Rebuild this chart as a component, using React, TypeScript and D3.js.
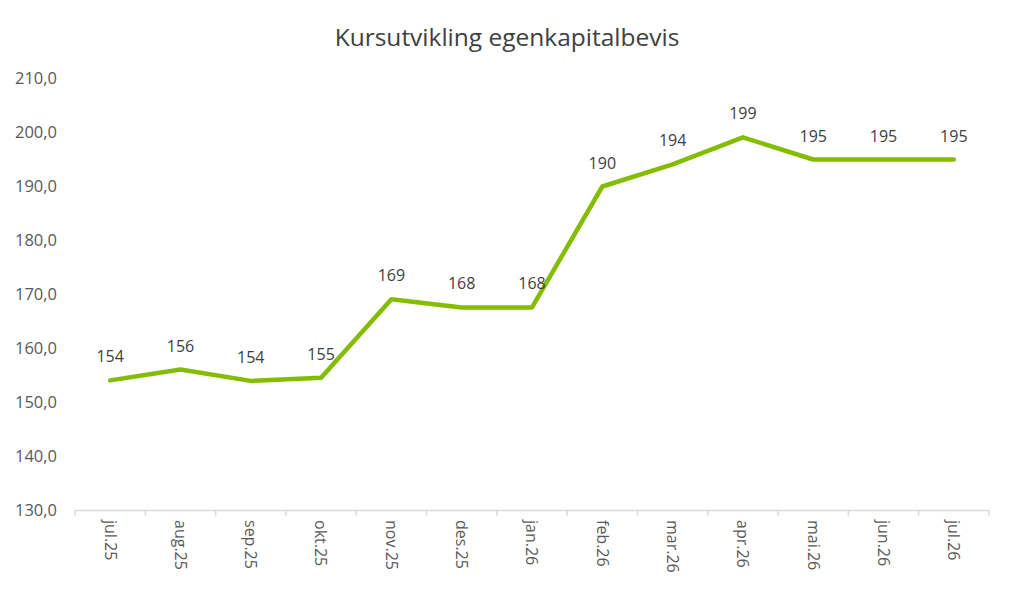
import React from "react";
import * as d3 from "d3";

const categories = ["jul.25","aug.25","sep.25","okt.25","nov.25","des.25","jan.26","feb.26","mar.26","apr.26","mai.26","jun.26","jul.26"];
const values = [154.1,156.1,154.0,154.6,169.1,167.6,167.6,190.0,194.1,199.1,195.0,195.0,195.0];
const yTicks = [130,140,150,160,170,180,190,200,210];
const title = "Kursutvikling egenkapitalbevis";

const W = 1013, H = 591;
const FONT = "'Open Sans', 'Noto Sans', sans-serif";

export default function App() {
  const x = d3.scaleBand<string>().domain(categories).range([75, 989]);
  const y = d3.scaleLinear().domain([130, 210]).range([510.5, 78.5]);
  const line = d3.line<number>()
    .x((_, i) => (x(categories[i]) as number) + x.bandwidth() / 2)
    .y(d => y(d));
  const fmt = (v: number) => v.toFixed(1).replace(".", ",");
  return (
    <svg width={W} height={H} style={{ position: "absolute", left: 0, top: 0, background: "#fff" }} fontFamily={FONT}>
      <rect width={W} height={H} fill="#fff" />
      <text x={507} y={46} textAnchor="middle" fontSize={24.5} fill="#404040">{title}</text>
      {yTicks.map(t => (
        <text key={t} x={57} y={y(t)} dy="0.35em" textAnchor="end" fontSize={16.5} fill="#595959">{fmt(t)}</text>
      ))}
      <line x1={75} x2={989} y1={y(130)} y2={y(130)} stroke="#d9d9d9" strokeWidth={1.5} />
      {categories.concat([""]).map((c, i) => {
        const xx = 75 + i * x.step();
        return <line key={"t" + i} x1={xx} x2={xx} y1={y(130)} y2={y(130) + 5} stroke="#d9d9d9" strokeWidth={1.5} />;
      })}
      {categories.map(c => {
        const cx = (x(c) as number) + x.bandwidth() / 2;
        return (
          <text key={c} transform={`translate(${cx},${520}) rotate(90)`} dy="0.35em" textAnchor="start" fontSize={16} fill="#595959">{c}</text>
        );
      })}
      <path d={line(values) || ""} fill="none" stroke="#84bd00" strokeWidth={4.5} strokeLinejoin="round" strokeLinecap="round" />
      {values.map((v, i) => {
        const cx = (x(categories[i]) as number) + x.bandwidth() / 2;
        return <text key={"l" + i} x={cx} y={y(v) - 18} textAnchor="middle" fontSize={16} fill="#404040">{Math.round(v)}</text>;
      })}
    </svg>
  );
}
